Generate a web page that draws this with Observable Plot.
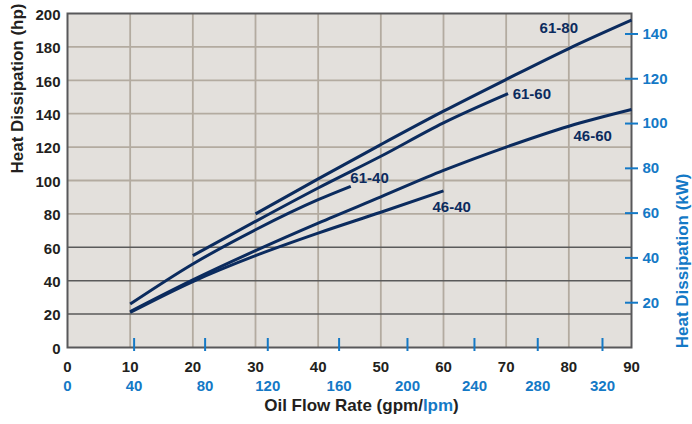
<!DOCTYPE html>
<html><head><meta charset="utf-8">
<script src="https://cdn.jsdelivr.net/npm/d3@7"></script>
<script src="https://cdn.jsdelivr.net/npm/@observablehq/plot@0.6"></script>
<style>
html,body{margin:0;padding:0;background:#fff;}
</style></head><body><div id="chart"></div>
<script>
// ---- data ----
const seriesNames = ["61-80", "61-60", "61-40", "46-60", "46-40"];
const flow6180 = [30, 40, 50, 60, 70, 80, 90];
const heat6180 = [80, 101, 121.5, 141.5, 160.5, 179, 196];
const flow6160 = [20, 30, 40, 50, 60, 70.3];
const heat6160 = [55, 75.5, 95.5, 114.5, 134.5, 152];
const flow6140 = [10, 20, 30, 40, 45.2];
const heat6140 = [26, 50, 70.5, 88.5, 96.5];
const flow4660 = [10, 20, 30, 40, 50, 60, 70, 80, 90];
const heat4660 = [21.5, 40.5, 58, 74.5, 90.2, 106, 120, 132.5, 142.5];
const flow4640 = [10, 20, 30, 40, 50, 60];
const heat4640 = [21, 39.5, 55, 68.5, 81, 93.8];

// curve label anchors (gpm, hp)
const labelFlow = [78.4, 74.1, 48.2, 83.8, 61.3];
const labelHeat = [191, 151.5, 101.2, 126.5, 83.9];

// axis ticks
const gpmTicks = [0, 10, 20, 30, 40, 50, 60, 70, 80, 90];
const hpTicks = [0, 20, 40, 60, 80, 100, 120, 140, 160, 180, 200];
const gridFlow = [10, 20, 30, 40, 50, 60, 70, 80];
const gridHpDark = [20, 40, 60];
const gridHpLight = [80, 100, 120, 140, 160, 180];
const lpmTicks = [0, 40, 80, 120, 160, 200, 240, 280, 320];
const lpmTickAtFlow = [0, 10.63, 21.96, 31.96, 43.34, 54.25, 64.94, 75.04, 85.37];
const kwTicks = [20, 40, 60, 80, 100, 120, 140];
const KW_PER_HP = 0.7457;

// ---- build table ----
const flows = [flow6180, flow6160, flow6140, flow4660, flow4640];
const heats = [heat6180, heat6160, heat6140, heat4660, heat4640];
const rows = [];
seriesNames.forEach((s, k) => flows[k].forEach((f, i) => rows.push({series: s, flow: f, heat: heats[k][i]})));
const labels = seriesNames.map((s, i) => ({name: s, flow: labelFlow[i], heat: labelHeat[i]}));

const navy = "#0b2b5e", blue = "#1479c6", ink = "#231f20";
const kwAtHp = kwTicks.map(k => k / KW_PER_HP);

const chart = Plot.plot({
  width: 692, height: 424,
  marginLeft: 67, marginRight: 61, marginTop: 13, marginBottom: 77,
  style: {fontFamily: "'Liberation Sans', Arial, sans-serif", fontWeight: "bold", fontSize: "15px", background: "#fff", overflow: "visible"},
  x: {domain: [0, 90], label: null},
  y: {domain: [0, 200], label: null},
  marks: [
    Plot.frame({fill: "#e3e0dc", stroke: null}),
    Plot.gridX(gridFlow, {stroke: "#b3aba0", strokeOpacity: 1, strokeWidth: 1.8}),
    Plot.gridY(gridHpLight, {stroke: "#b3aba0", strokeOpacity: 1, strokeWidth: 1.8}),
    Plot.gridY(gridHpDark, {stroke: "#5a5a5a", strokeOpacity: 1, strokeWidth: 1.5}),
    Plot.frame({stroke: "#58585a", strokeWidth: 2}),
    Plot.line(rows, {x: "flow", y: "heat", z: "series", stroke: navy, strokeWidth: 3, strokeLinecap: "butt", curve: "monotone-x"}),
    Plot.text(labels, {x: "flow", y: "heat", text: "name", fill: navy, fontSize: 15, fontWeight: "bold", letterSpacing: "-0.5px"}),
    // left hp axis
    Plot.axisY(hpTicks, {anchor: "left", tickSize: 0, tickPadding: 7, fill: ink, fontSize: 15, dy: 1.5}),
    // bottom gpm axis
    Plot.axisX(gpmTicks, {anchor: "bottom", tickSize: 0, tickPadding: 14, fill: ink, fontSize: 15}),
    // bottom lpm ticks (blue, crossing frame)
    Plot.axisX(lpmTickAtFlow.slice(1), {anchor: "bottom", tickSize: 13, dy: -9, stroke: blue, strokeWidth: 2, fill: "none"}),
    Plot.text(lpmTicks, {x: (d, i) => lpmTickAtFlow[i], text: d => String(d), frameAnchor: "bottom", lineAnchor: "top", dy: 33, fill: blue, fontSize: 15}),
    // right kW axis
    Plot.axisY(kwAtHp, {anchor: "right", tickSize: 13, dx: -7, stroke: blue, strokeWidth: 2, fill: "none"}),
    Plot.axisY(kwAtHp, {anchor: "right", tickSize: 0, tickPadding: 11, fill: blue, fontSize: 15, tickFormat: d => String(Math.round(d * KW_PER_HP))}),
    // titles
    Plot.text(["Heat Dissipation (hp)"], {frameAnchor: "left", rotate: -90, dx: -50, dy: -7, fill: ink, fontSize: 17, fontWeight: "bold"}),
    Plot.text(["Heat Dissipation (kW)"], {frameAnchor: "right", rotate: -90, dx: 51, dy: -7, fill: blue, fontSize: 17, fontWeight: "bold"}),
    Plot.text(["Oil Flow Rate (gpm/lpm)"], {frameAnchor: "bottom", dx: 12, dy: 63, fill: ink, fontSize: 17, fontWeight: "bold"})
  ]
});
document.getElementById("chart").appendChild(chart);

// colour the "lpm" part of the x title
d3.select(chart).selectAll("text").filter(function () { return this.textContent === "Oil Flow Rate (gpm/lpm)"; })
  .each(function () {
    const t = d3.select(this);
    t.text(null);
    t.append("tspan").text("Oil Flow Rate (gpm/");
    t.append("tspan").attr("fill", blue).text("lpm");
    t.append("tspan").text(")");
  });
</script>
</body></html>
